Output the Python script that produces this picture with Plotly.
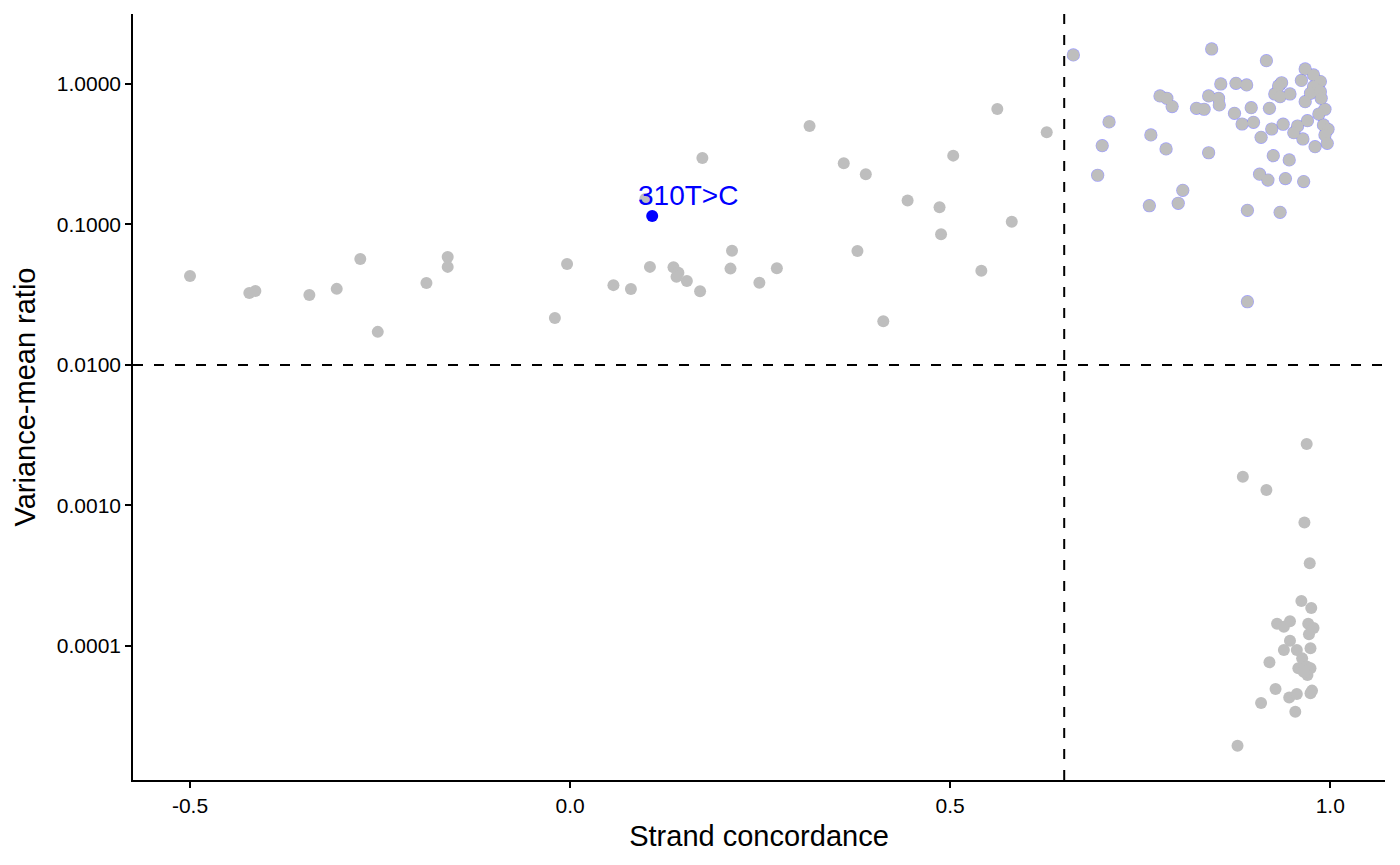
import numpy as np
import plotly.graph_objects as go

# ---- data ----
# variants left of the concordance cut (all gray)
conc_left = [-0.500, -0.422, -0.414, -0.343, -0.307, -0.276, -0.253, -0.189, -0.161, -0.161,
             -0.020, -0.004, 0.057, 0.080, 0.105, 0.099, 0.174, 0.136, 0.1425, 0.140,
             0.1536, 0.171, 0.213, 0.211, 0.249, 0.272, 0.315, 0.360, 0.389, 0.378,
             0.412, 0.444, 0.486, 0.488, 0.504, 0.541, 0.562, 0.581, 0.627]
vmr_left = [0.043, 0.0325, 0.0336, 0.0315, 0.0348, 0.0568, 0.0172, 0.0383, 0.0587, 0.0499,
            0.0216, 0.0524, 0.037, 0.0347, 0.0499, 0.152, 0.297, 0.0496, 0.0454, 0.0425,
            0.0396, 0.0335, 0.0651, 0.0485, 0.0385, 0.0488, 0.502, 0.273, 0.228, 0.0648,
            0.0205, 0.148, 0.1325, 0.0852, 0.309, 0.0469, 0.664, 0.1047, 0.453]

# high concordance, high variance-mean ratio
conc_top = [0.662, 0.844, 0.916, 0.967, 0.978, 0.987, 0.962, 0.936, 0.932, 0.927,
            0.934, 0.947, 0.978, 0.974, 0.987, 0.988, 0.967, 0.993, 0.985, 0.970,
            0.991, 0.997, 0.993, 0.957, 0.952, 0.964, 0.938, 0.923, 0.909, 0.996,
            0.980, 0.920, 0.896, 0.899, 0.884, 0.874, 0.856, 0.876, 0.890, 0.840,
            0.853, 0.854, 0.824, 0.834, 0.776, 0.785, 0.792, 0.709, 0.700, 0.694,
            0.764, 0.784, 0.840, 0.925, 0.946, 0.907, 0.918, 0.941, 0.965, 0.806,
            0.800, 0.762, 0.891, 0.934, 0.891]
vmr_top = [1.61, 1.775, 1.465, 1.28, 1.16, 1.04, 1.06, 1.02, 0.968, 0.849,
           0.812, 0.849, 0.957, 0.859, 0.882, 0.791, 0.748, 0.661, 0.611, 0.548,
           0.511, 0.476, 0.434, 0.502, 0.450, 0.406, 0.517, 0.478, 0.417, 0.378,
           0.358, 0.671, 0.678, 0.533, 0.519, 0.618, 1.0, 1.01, 0.984, 0.822,
           0.791, 0.709, 0.671, 0.661, 0.822, 0.791, 0.690, 0.537, 0.364, 0.224,
           0.434, 0.345, 0.324, 0.309, 0.288, 0.228, 0.207, 0.212, 0.202, 0.175,
           0.1415, 0.136, 0.126, 0.122, 0.0282]

# high concordance, very low variance-mean ratio
conc_bot = [0.969, 0.885, 0.916, 0.966, 0.973, 0.962, 0.975, 0.930, 0.939, 0.947,
            0.971, 0.978, 0.972, 0.947, 0.939, 0.956, 0.974, 0.963, 0.920, 0.958,
            0.969, 0.974, 0.970, 0.965, 0.928, 0.976, 0.974, 0.946, 0.956, 0.909,
            0.954, 0.878]
vmr_bot = [0.00274, 0.0016, 0.00129, 0.000755, 0.000388, 0.000209, 0.000186, 0.000144, 0.000137, 0.00015,
           0.000144, 0.000134, 0.000121, 0.000109, 0.0000937, 0.0000937, 0.0000962, 0.0000816, 0.0000766, 0.0000694,
           0.0000713, 0.0000694, 0.0000622, 0.0000656, 0.0000494, 0.0000481, 0.000046, 0.0000429, 0.0000455, 0.0000393,
           0.000034, 0.0000195]

# highlighted variant
conc_hl = [0.108]
vmr_hl = [0.115]
label_hl = ["310T>C"]

# thresholds
conc_cut = 0.65
vmr_cut = 0.01

x_ticks = [-0.5, 0.0, 0.5, 1.0]
x_ticklabels = ["-0.5", "0.0", "0.5", "1.0"]
y_ticks = [1, 0.1, 0.01, 0.001, 0.0001]
y_ticklabels = ["1.0000", "0.1000", "0.0100", "0.0010", "0.0001"]

x_range = [-0.575, 1.072]
y_range_log = [-4.954, 0.498]

GRAY = "#BEBEBE"
FONT = "Liberation Sans, Arial, sans-serif"

fig = go.Figure()

# dashed threshold lines
fig.add_trace(go.Scatter(x=x_range, y=[vmr_cut, vmr_cut], mode="lines",
                         line=dict(color="black", width=2, dash="10px,11px"),
                         hoverinfo="skip", showlegend=False))
fig.add_trace(go.Scatter(x=[conc_cut, conc_cut], y=[10 ** y_range_log[0], 10 ** y_range_log[1]],
                         mode="lines", line=dict(color="black", width=2, dash="10px,11px"),
                         hoverinfo="skip", showlegend=False))

# blue fringe beneath the high cluster
fig.add_trace(go.Scatter(x=conc_top, y=vmr_top, mode="markers",
                         marker=dict(color="rgba(80,80,255,0.55)", size=13.2, line=dict(width=0)),
                         hoverinfo="skip", showlegend=False))

# gray points
fig.add_trace(go.Scatter(x=conc_left + conc_top + conc_bot, y=vmr_left + vmr_top + vmr_bot,
                         mode="markers",
                         marker=dict(color=GRAY, size=12, line=dict(width=0)),
                         showlegend=False))

# highlighted point
fig.add_trace(go.Scatter(x=conc_hl, y=vmr_hl, mode="markers",
                         marker=dict(color="#0000FF", size=12, line=dict(width=0)),
                         showlegend=False))

for cx, vy, lab in zip(conc_hl, vmr_hl, label_hl):
    fig.add_annotation(x=cx, y=np.log10(vy), text=lab, showarrow=False,
                       xanchor="center", yanchor="middle", xshift=36, yshift=20,
                       font=dict(family=FONT, size=28, color="#0000FF"))

# page body adds an 8px offset; compensate in size and margins
fig.update_layout(
    width=1392, height=857,
    margin=dict(l=125, r=15, t=6, b=85),
    paper_bgcolor="white", plot_bgcolor="white",
    showlegend=False,
    font=dict(family=FONT, color="black"),
)

fig.update_xaxes(
    range=x_range, tickmode="array", tickvals=x_ticks, ticktext=x_ticklabels,
    showgrid=False, zeroline=False, showline=True, linecolor="black", linewidth=1.6,
    ticks="outside", ticklen=6, tickwidth=1.6, tickcolor="black",
    tickfont=dict(family=FONT, size=21, color="black"),
    title=dict(text="Strand concordance", font=dict(family=FONT, size=29, color="black"), standoff=10),
)
fig.update_yaxes(
    type="log", range=y_range_log, tickmode="array", tickvals=y_ticks, ticktext=y_ticklabels,
    showgrid=False, zeroline=False, showline=True, linecolor="black", linewidth=1.6,
    ticks="outside", ticklen=6, tickwidth=1.6, tickcolor="black",
    tickfont=dict(family=FONT, size=21, color="black"),
    title=dict(text="Variance-mean ratio", font=dict(family=FONT, size=29, color="black"), standoff=13),
)

fig.write_html("out.html")
